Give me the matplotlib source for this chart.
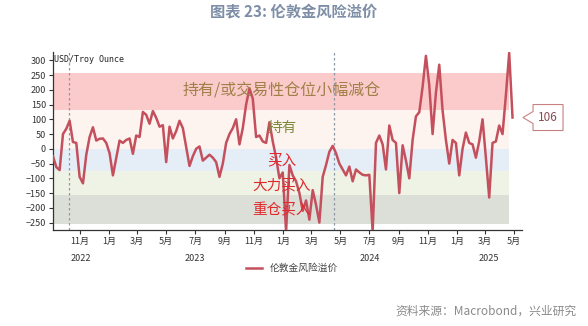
import numpy as np
import pandas as pd
import matplotlib
matplotlib.use('Agg')
import matplotlib.pyplot as plt
import matplotlib.dates as mdates
import matplotlib.transforms as mtransforms
from matplotlib.patches import Polygon

plt.rcParams['font.family'] = ['Noto Sans CJK SC', 'DejaVu Sans']

# weekly London gold risk premium, USD/Troy Ounce
premium = [-25, -62, -72, 50, 68, 95, 23, 20, -95, -117,
           -20, 40, 73, 28, 34, 35, 20, -15, -90, -30,
           28, 20, 30, 35, -17, 45, 40, 125, 115, 85,
           128, 105, 75, 80, -45, 75, 35, 60, 95, 70,
           5, -58, -25, 0, 8, -40, -30, -20, -30, -45,
           -95, -50, 20, 50, 70, 100, 15, 70, 150, 205,
           170, 40, 45, 25, 20, 90, 25, -30, -100, -80,
           -280, -55, -90, -110, -150, -210, -175, -240, -140, -190,
           -250, -95, -55, -10, 10, -15, -50, -70, -90, -60,
           -110, -70, -80, -88, -90, -88, -280, 20, 45, 15,
           -70, 79, 30, 20, -150, 12, -40, -100, 30, 110,
           124, 210, 315, 215, 50, 190, 285, 130, 30, -50,
           30, 20, -90, 0, 55, 20, 15, -30, 25, 100,
           -30, -165, 20, 25, 79, 50, 180, 325, 106]
dates = pd.date_range('2022-09-05', periods=len(premium), freq='7D')

# signal bands: lower, upper, colour
band_lo = [-255, -155, -75, 0, 133]
band_hi = [-155, -75, 0, 133, 258]
band_col = ['#dcdfd7', '#eef3e6', '#e5eef6', '#fdf3ef', '#fbcaca']
band_end = pd.Timestamp('2025-04-20')

band_text = ['持有/或交易性仓位小幅减仓', '持有', '买入', '大力买入', '重仓买入']
text_y = [195, 69, -39, -123, -207]
text_size = [11.5, 10.5, 10.5, 10.5, 10.5]
text_col = ['#a08048', '#7c8a3c', '#e0282a', '#e0282a', '#e0282a']

years = ['2022', '2023', '2024', '2025']
year_pos = ['2022-11-03', '2023-07-01', '2024-07-01', '2025-03-10']

fig = plt.figure(figsize=(5.88, 3.26), dpi=100)
ax = fig.add_axes([0.0901, 0.2945, 0.7977, 0.546])

for lo, hi, c in zip(band_lo, band_hi, band_col):
    ax.fill_between([dates[0], band_end], lo, hi, color=c, lw=0, zorder=0)

for d in ['2022-10-08', '2024-04-18']:
    ax.axvline(pd.Timestamp(d), color='#8c9aa8', lw=0.9, ls=(0, (2, 2)), zorder=1)

ax.plot(dates, premium, color='#c4505e', lw=1.8, zorder=3, label='伦敦金风险溢价')

ax.set_xlim(dates[0], pd.Timestamp('2025-05-18'))
ax.set_ylim(-275, 328)
ax.set_yticks(np.arange(-250, 301, 50))

ax.xaxis.set_major_locator(mdates.MonthLocator(bymonth=[1, 3, 5, 7, 9, 11]))
ax.xaxis.set_major_formatter(plt.FuncFormatter(lambda v, p: f'{mdates.num2date(v).month}月'))
ax.tick_params(axis='both', labelsize=6.5, length=3, width=0.8, colors='#333333', pad=2)

for s in ['top', 'right']:
    ax.spines[s].set_visible(False)
for s in ['left', 'bottom']:
    ax.spines[s].set_color('#333333')
    ax.spines[s].set_linewidth(0.9)

ytr = mtransforms.blended_transform_factory(ax.transData, ax.transAxes)
for y, p in zip(years, year_pos):
    ax.text(pd.Timestamp(p), -0.158, y, transform=ytr, ha='center', va='center',
            fontsize=6.5, color='#333333')

btr = mtransforms.blended_transform_factory(ax.transAxes, ax.transData)
for t, y, c, fs in zip(band_text, text_y, text_col, text_size):
    ax.text(0.488, y, t, transform=btr, ha='center', va='center', fontsize=fs,
            color=c, zorder=4)

ax.text(0.003, 0.985, 'USD/Troy Ounce', transform=ax.transAxes, ha='left', va='top',
        fontsize=6, family='DejaVu Sans Mono', color='#222222')

# callout with last value
last = premium[-1]
tr = mtransforms.Affine2D() + mtransforms.ScaledTranslation(1.0, last, btr)
pts = [(1, 0), (11, 6), (11, 13), (41, 13), (41, -13), (11, -13), (11, -6)]
ax.add_patch(Polygon(pts, closed=True, transform=tr, fc='white', ec='#c88080',
                     lw=0.8, clip_on=False, zorder=5))
ax.text(26, 0, str(last), transform=tr, ha='center', va='center', fontsize=8.5,
        color='#8a4a52', zorder=6)

fig.legend(loc='center', bbox_to_anchor=(0.497, 0.178), frameon=False, fontsize=7,
           handlelength=1.6, labelcolor='#444444')

fig.text(0.5, 0.963, '图表 23: 伦敦金风险溢价', ha='center', va='center',
         fontsize=11, fontweight='bold', color='#7d8ea6')
fig.text(0.981, 0.047, '资料来源：Macrobond，兴业研究', ha='right', va='center',
         fontsize=8.5, color='#8a8a8a')

fig.savefig('out.png', dpi=100, facecolor='white')
